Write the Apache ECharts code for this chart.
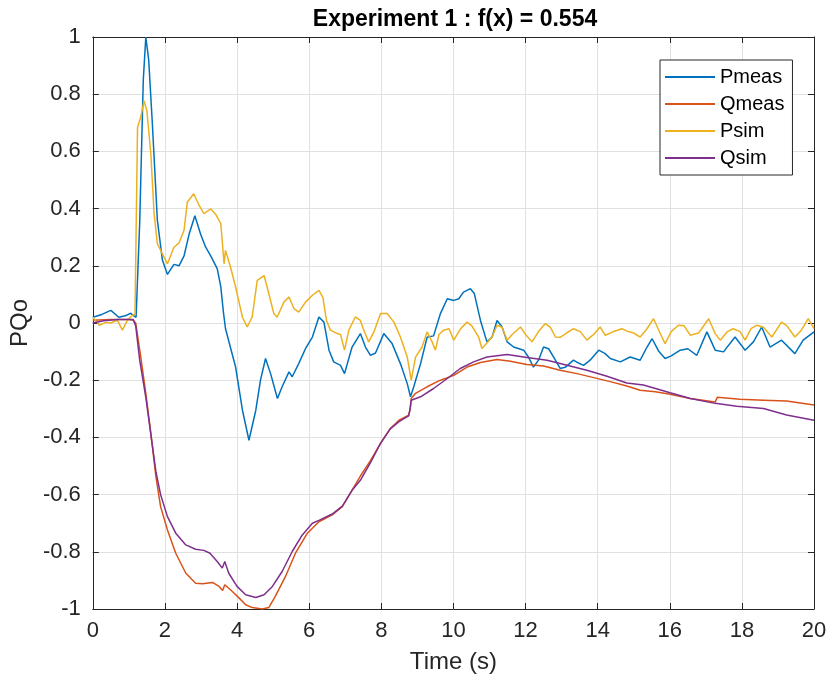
<!DOCTYPE html>
<html>
<head>
<meta charset="utf-8">
<title>Experiment 1</title>
<script src="https://cdn.jsdelivr.net/npm/echarts@6/dist/echarts.min.js"></script>
<style>
  html, body { margin: 0; padding: 0; background: #fff; }
  #chart { width: 832px; height: 681px; }
</style>
</head>
<body>
<div id="chart"></div>
<script>
// [time (s), value] pairs
const pmeas = [
  [0, 0.02], [0.25, 0.03], [0.5, 0.044], [0.72, 0.02], [0.9, 0.025], [1.05, 0.034], [1.2, 0.02],
  [1.3, 0.35], [1.4, 0.85], [1.47, 1.0], [1.55, 0.92], [1.65, 0.7], [1.79, 0.36], [1.93, 0.22],
  [2.07, 0.17], [2.25, 0.205], [2.39, 0.2], [2.53, 0.235], [2.67, 0.31], [2.83, 0.375], [2.99, 0.31],
  [3.13, 0.265], [3.27, 0.235], [3.45, 0.19], [3.55, 0.126], [3.62, 0.04], [3.68, -0.02], [3.96, -0.154],
  [4.15, -0.305], [4.33, -0.41], [4.52, -0.305], [4.65, -0.2], [4.79, -0.124], [4.93, -0.177],
  [5.12, -0.264], [5.25, -0.223], [5.44, -0.171], [5.53, -0.188], [5.71, -0.142], [5.9, -0.089],
  [6.09, -0.049], [6.27, 0.021], [6.41, 0.003], [6.55, -0.095], [6.68, -0.136], [6.87, -0.148],
  [6.98, -0.177], [7.19, -0.084], [7.42, -0.037], [7.56, -0.084], [7.7, -0.113], [7.84, -0.105],
  [8.07, -0.037], [8.3, -0.072], [8.53, -0.142], [8.72, -0.212], [8.81, -0.258], [8.9, -0.223],
  [9.09, -0.142], [9.27, -0.05], [9.45, -0.045], [9.64, 0.033], [9.83, 0.085], [10.01, 0.079],
  [10.15, 0.085], [10.28, 0.108], [10.47, 0.12], [10.58, 0.103], [10.75, 0.009], [10.93, -0.066],
  [11.07, -0.05], [11.21, 0.009], [11.35, -0.014], [11.49, -0.066], [11.67, -0.084], [11.95, -0.095],
  [12.08, -0.119], [12.22, -0.154], [12.36, -0.13], [12.5, -0.084], [12.64, -0.09], [12.78, -0.119],
  [12.96, -0.159], [13.1, -0.155], [13.33, -0.13], [13.47, -0.14], [13.61, -0.148], [13.79, -0.13],
  [14.03, -0.095], [14.21, -0.107], [14.35, -0.124], [14.63, -0.136], [14.9, -0.119], [15.18, -0.13],
  [15.37, -0.084], [15.51, -0.055], [15.7, -0.1], [15.87, -0.124], [16.04, -0.115], [16.29, -0.095],
  [16.5, -0.09], [16.75, -0.113], [17.03, -0.031], [17.26, -0.095], [17.49, -0.101], [17.81, -0.049],
  [18.09, -0.095], [18.32, -0.066], [18.55, -0.014], [18.78, -0.084], [19.1, -0.06], [19.47, -0.107],
  [19.7, -0.06], [20, -0.031]
];

const qmeas = [
  [0, 0.01], [0.5, 0.012], [1.0, 0.012], [1.12, 0.01], [1.19, 0.0], [1.33, -0.119], [1.47, -0.246],
  [1.61, -0.386], [1.75, -0.537], [1.88, -0.642], [2.07, -0.724], [2.3, -0.805], [2.58, -0.875],
  [2.85, -0.91], [3.04, -0.912], [3.32, -0.907], [3.5, -0.921], [3.6, -0.935], [3.66, -0.915],
  [3.87, -0.939], [4.06, -0.962], [4.24, -0.985], [4.42, -0.995], [4.7, -1.0], [4.88, -0.995],
  [5.06, -0.956], [5.34, -0.887], [5.62, -0.805], [5.95, -0.735], [6.27, -0.695], [6.64, -0.671],
  [6.92, -0.642], [7.19, -0.584], [7.42, -0.535], [7.7, -0.481], [7.98, -0.421], [8.25, -0.369],
  [8.49, -0.34], [8.76, -0.322], [8.8, -0.3], [8.83, -0.264], [8.95, -0.246], [9.27, -0.223],
  [9.64, -0.2], [10.01, -0.183], [10.38, -0.154], [10.75, -0.138], [11.21, -0.128], [11.58, -0.134],
  [12.04, -0.145], [12.5, -0.15], [12.96, -0.165], [13.43, -0.177], [13.89, -0.191], [14.35, -0.205],
  [14.81, -0.22], [15.18, -0.235], [15.6, -0.24], [16.01, -0.249], [16.57, -0.264], [17.26, -0.276],
  [17.32, -0.26], [17.95, -0.267], [18.6, -0.27], [19.24, -0.273], [20, -0.287]
];

const psim = [
  [0, 0.02], [0.18, -0.008], [0.36, 0.002], [0.5, 0.0], [0.68, 0.01], [0.82, -0.025], [0.96, 0.01],
  [1.1, 0.027], [1.17, 0.03], [1.24, 0.684], [1.33, 0.72], [1.42, 0.777], [1.5, 0.742], [1.61, 0.59],
  [1.7, 0.382], [1.79, 0.277], [1.93, 0.242], [2.07, 0.207], [2.25, 0.265], [2.39, 0.28], [2.53, 0.324],
  [2.62, 0.422], [2.8, 0.452], [2.95, 0.411], [3.08, 0.382], [3.27, 0.399], [3.41, 0.38], [3.55, 0.347],
  [3.64, 0.207], [3.68, 0.254], [3.82, 0.195], [3.96, 0.126], [4.15, 0.02], [4.28, -0.014],
  [4.42, 0.021], [4.56, 0.149], [4.75, 0.166], [4.88, 0.103], [5.02, 0.033], [5.11, 0.02], [5.3, 0.073],
  [5.44, 0.091], [5.58, 0.05], [5.71, 0.038], [5.9, 0.073], [6.09, 0.097], [6.27, 0.114], [6.38, 0.09],
  [6.48, 0.009], [6.59, -0.025], [6.78, -0.037], [6.87, -0.04], [6.98, -0.095], [7.1, -0.025],
  [7.28, 0.021], [7.42, 0.009], [7.5, -0.02], [7.65, -0.066], [7.8, -0.03], [7.98, 0.033], [8.16, 0.033],
  [8.35, 0.003], [8.53, -0.049], [8.72, -0.119], [8.83, -0.2], [8.95, -0.119], [9.13, -0.084],
  [9.27, -0.031], [9.41, -0.066], [9.5, -0.095], [9.6, -0.04], [9.73, -0.025], [9.88, -0.02],
  [10.01, -0.06], [10.2, -0.02], [10.38, 0.003], [10.51, -0.01], [10.7, -0.049], [10.79, -0.089],
  [10.93, -0.07], [11.07, -0.049], [11.21, -0.008], [11.35, -0.015], [11.49, -0.06], [11.63, -0.04],
  [11.86, -0.014], [12.0, -0.04], [12.18, -0.066], [12.36, -0.03], [12.55, -0.002], [12.69, -0.015],
  [12.83, -0.049], [12.96, -0.05], [13.14, -0.035], [13.33, -0.02], [13.52, -0.03], [13.7, -0.06],
  [13.89, -0.04], [14.07, -0.014], [14.21, -0.043], [14.44, -0.03], [14.67, -0.02], [14.85, -0.03],
  [15.0, -0.035], [15.18, -0.049], [15.37, -0.02], [15.55, 0.015], [15.73, -0.035], [15.87, -0.072],
  [16.04, -0.03], [16.24, -0.008], [16.4, -0.01], [16.57, -0.043], [16.8, -0.035], [17.08, 0.015],
  [17.26, -0.037], [17.4, -0.06], [17.6, -0.03], [17.76, -0.02], [17.95, -0.03], [18.09, -0.06],
  [18.25, -0.02], [18.41, -0.008], [18.6, -0.015], [18.83, -0.049], [19.1, 0.003], [19.25, -0.01],
  [19.47, -0.049], [19.65, -0.025], [19.84, 0.015], [20, -0.02]
];

const qsim = [
  [0, 0.0], [0.3, 0.008], [0.7, 0.012], [1.12, 0.012], [1.19, -0.01], [1.3, -0.13], [1.47, -0.26],
  [1.61, -0.39], [1.75, -0.52], [1.88, -0.6], [2.07, -0.677], [2.3, -0.735], [2.58, -0.776],
  [2.85, -0.791], [3.08, -0.795], [3.25, -0.805], [3.45, -0.834], [3.59, -0.857], [3.66, -0.834],
  [3.77, -0.875], [4.0, -0.921], [4.24, -0.95], [4.52, -0.96], [4.75, -0.95], [4.98, -0.921],
  [5.25, -0.869], [5.53, -0.799], [5.81, -0.741], [6.09, -0.7], [6.27, -0.69], [6.64, -0.668],
  [6.92, -0.64], [7.19, -0.585], [7.42, -0.55], [7.7, -0.488], [7.98, -0.42], [8.25, -0.37],
  [8.49, -0.345], [8.76, -0.325], [8.8, -0.3], [8.83, -0.27], [9.09, -0.258], [9.45, -0.229],
  [9.83, -0.194], [10.19, -0.159], [10.56, -0.136], [10.93, -0.119], [11.49, -0.11], [12.04, -0.121],
  [12.6, -0.13], [13.15, -0.148], [13.7, -0.165], [14.26, -0.186], [14.81, -0.21], [15.27, -0.217],
  [16.01, -0.244], [16.57, -0.264], [17.26, -0.281], [17.86, -0.291], [18.6, -0.299], [19.24, -0.322],
  [20, -0.34]
];

const seriesNames = ["Pmeas", "Qmeas", "Psim", "Qsim"];
const seriesColors = ["#0072BD", "#D95319", "#EDB120", "#7E2F8E"];
const seriesData = [pmeas, qmeas, psim, qsim];

const font = "Liberation Sans, Arial, Helvetica, sans-serif";
const axisColor = "#262626";

const chart = echarts.init(document.getElementById("chart"), null, { renderer: "canvas" });

// matlab style box: ticks inside on all four sides
const tickInside = { show: true, inside: true, length: 6, lineStyle: { color: axisColor, width: 1 } };

const option = {
  animation: false,
  backgroundColor: "#fff",
  title: {
    text: "Experiment 1 : f(x) = 0.554",
    left: 450,
    top: 3,
    textAlign: "center",
    textStyle: { fontFamily: font, fontWeight: "bold", fontSize: 23, color: "#000" },
  },
  legend: {
    data: seriesNames,
    orient: "vertical",
    left: 660,
    top: 60,
    padding: [7, 8, 7, 5],
    itemGap: 7,
    itemWidth: 50,
    itemHeight: 2,
    icon: "rect",
    backgroundColor: "#fff",
    borderColor: axisColor,
    borderWidth: 1,
    borderRadius: 0,
    textStyle: { fontFamily: font, fontSize: 20, lineHeight: 20, color: "#000" },
  },
  grid: { left: 92, right: 18, top: 37, bottom: 72, containLabel: false },
  xAxis: [
    {
      type: "value",
      min: 0,
      max: 20,
      interval: 2,
      name: "Time (s)",
      nameLocation: "middle",
      nameGap: 41,
      nameTextStyle: { fontFamily: font, fontSize: 24, color: axisColor },
      axisLine: { show: true, onZero: false, lineStyle: { color: axisColor, width: 1 } },
      axisTick: tickInside,
      axisLabel: { margin: 11, fontFamily: font, fontSize: 22, color: axisColor },
      splitLine: { show: true, lineStyle: { color: "#e0e0e0", width: 1 } },
    },
    {
      type: "value",
      position: "top",
      min: 0,
      max: 20,
      interval: 2,
      axisLine: { show: true, onZero: false, lineStyle: { color: axisColor, width: 1 } },
      axisTick: tickInside,
      axisLabel: { show: false },
      splitLine: { show: false },
    },
  ],
  yAxis: [
    {
      type: "value",
      min: -1,
      max: 1,
      interval: 0.2,
      name: "PQo",
      nameLocation: "middle",
      nameGap: 57,
      nameTextStyle: { fontFamily: font, fontSize: 24, color: axisColor },
      axisLine: { show: true, onZero: false, lineStyle: { color: axisColor, width: 1 } },
      axisTick: tickInside,
      axisLabel: {
        margin: 12,
        fontFamily: font,
        fontSize: 22,
        color: axisColor,
        formatter: function (v) {
          return String(Math.round(v * 10) / 10);
        },
      },
      splitLine: { show: true, lineStyle: { color: "#e0e0e0", width: 1 } },
    },
    {
      type: "value",
      position: "right",
      min: -1,
      max: 1,
      interval: 0.2,
      axisLine: { show: true, onZero: false, lineStyle: { color: axisColor, width: 1 } },
      axisTick: tickInside,
      axisLabel: { show: false },
      splitLine: { show: false },
    },
  ],
  series: seriesNames.map(function (name, i) {
    return {
      name: name,
      type: "line",
      xAxisIndex: 0,
      yAxisIndex: 0,
      showSymbol: false,
      symbol: "none",
      clip: true,
      color: seriesColors[i],
      lineStyle: { color: seriesColors[i], width: 1.5 },
      data: seriesData[i],
    };
  }),
};

chart.setOption(option);
</script>
</body>
</html>
